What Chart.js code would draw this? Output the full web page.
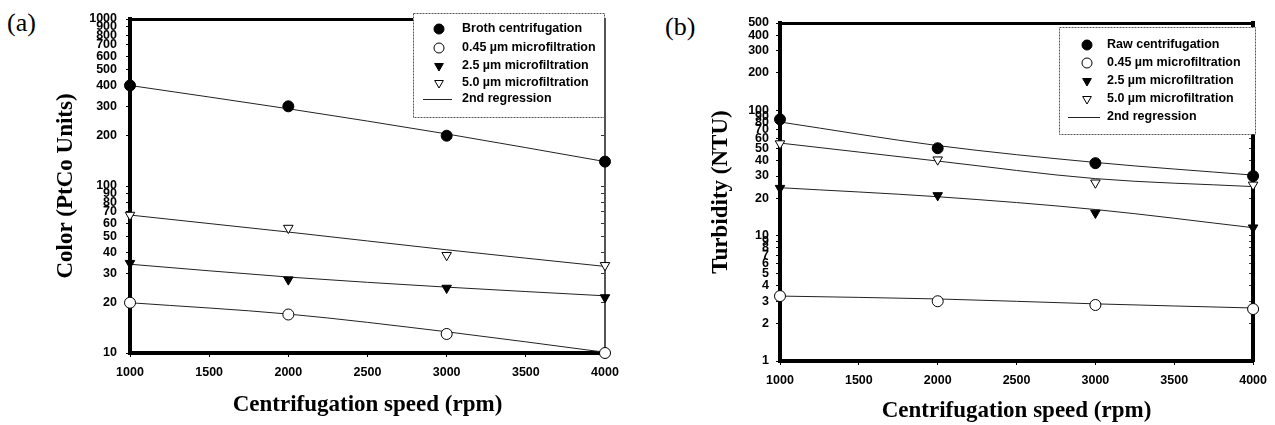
<!DOCTYPE html>
<html><head><meta charset="utf-8">
<script src="https://cdn.jsdelivr.net/npm/chart.js@4.4.1/dist/chart.umd.min.js"></script>
<style>
html,body{margin:0;padding:0;background:#fff;width:1275px;height:425px;overflow:hidden;position:relative}
canvas{position:absolute;top:0}
#ca{left:0}
#cb{left:637px}
.lab{position:absolute;font-family:"Liberation Serif","Times New Roman",serif;font-size:26px;color:#000;line-height:1}
</style></head><body>
<div class="lab" style="left:7px;top:10px">(a)</div>
<div class="lab" style="left:665px;top:14px">(b)</div>
<canvas id="ca" width="637" height="425"></canvas>
<canvas id="cb" width="638" height="425"></canvas>
<script>
// ---- data ----
const speeds = [1000, 2000, 3000, 4000];
const xTicks = [1000, 1500, 2000, 2500, 3000, 3500, 4000];

// panel (a) colour
const colorBroth = [400, 300, 200, 140];
const color045 = [20, 17, 13, 10];
const color25 = [34.5, 27.5, 24.5, 21.5];
const color50 = [67, 56, 38.5, 33.5];
const colorBrothFit = [400, 290, 205, 140];
const color045Fit = [20, 17.1, 13.4, 10.1];
const color25Fit = [34, 28.5, 24.8, 22];
const color50Fit = [67, 53, 41.5, 33];
const yTicksA = [10,20,30,40,50,60,70,80,90,100,200,300,400,500,600,700,800,900,1000];
const legendA = ['Broth centrifugation','0.45 \u00b5m microfiltration','2.5 \u00b5m microfiltration','5.0 \u00b5m microfiltration','2nd regression'];

// panel (b) turbidity
const turbRaw = [85, 50, 38, 30];
const turb045 = [3.3, 3.0, 2.8, 2.6];
const turb25 = [24, 21, 15.2, 11.6];
const turb50 = [54.5, 40.5, 26.5, 25.5];
const turbRawFit = [81, 52.5, 38.5, 30.5];
const turb045Fit = [3.3, 3.13, 2.86, 2.65];
const turb25Fit = [24.2, 20.5, 16.2, 11.6];
const turb50Fit = [55, 39.5, 28.6, 24.7];
const yTicksB = [1,2,3,4,5,6,7,8,9,10,20,30,40,50,60,70,80,90,100,200,300,400,500];
const legendB = ['Raw centrifugation','0.45 \u00b5m microfiltration','2.5 \u00b5m microfiltration','5.0 \u00b5m microfiltration','2nd regression'];

// ---- drawing ----
const markerStyles = [
  {style:'circle', rot:0, r:5.5, fill:'#000'},
  {style:'circle', rot:0, r:5.5, fill:'#fff'},
  {style:'triangle', rot:180, r:5.5, fill:'#000'},
  {style:'triangle', rot:180, r:5.5, fill:'#fff'}
];

const boxLegend = {
  id: 'boxLegend',
  afterDraw(chart, args, o) {
    const ctx = chart.ctx;
    ctx.save();
    const b = o.box;
    ctx.fillStyle = '#fff';
    ctx.fillRect(b[0], b[1], b[2]-b[0], b[3]-b[1]);
    ctx.strokeStyle = '#555';
    ctx.lineWidth = 1;
    ctx.setLineDash([2, 1]);
    ctx.strokeRect(b[0]+0.5, b[1]+0.5, b[2]-b[0], b[3]-b[1]);
    ctx.setLineDash([]);
    const ds = chart.data.datasets;
    o.labels.forEach((lab, i) => {
      const y = o.rows[i];
      if (i < 4) {
        const d = ds[i];
        ctx.fillStyle = d.backgroundColor;
        ctx.strokeStyle = '#000';
        ctx.lineWidth = 1;
        Chart.helpers.drawPoint(ctx, {pointStyle: d.pointStyle, rotation: d.rotation, radius: 5, borderWidth: 1}, o.markerX, y);
      } else {
        ctx.strokeStyle = '#222';
        ctx.lineWidth = 1;
        ctx.beginPath();
        ctx.moveTo(o.line[0], y + 0.5);
        ctx.lineTo(o.line[1], y + 0.5);
        ctx.stroke();
      }
      ctx.fillStyle = '#000';
      ctx.font = 'bold 12.5px "Liberation Sans", Arial, sans-serif';
      ctx.textBaseline = 'middle';
      ctx.textAlign = 'left';
      ctx.fillText(lab, o.textX, y);
    });
    ctx.restore();
  }
};

function makeChart(canvas, cfg) {
  const tickFont = {family: '"Liberation Sans", Arial, sans-serif', size: 12.5, weight: 'bold'};
  const titleFont = {family: '"Liberation Serif", "Times New Roman", serif', size: 23, weight: 'bold'};
  const datasets = [];
  cfg.series.forEach((vals, k) => {
    const m = markerStyles[k];
    datasets.push({
      label: cfg.legend[k],
      data: speeds.map((x, i) => ({x, y: vals[i]})),
      showLine: false, pointStyle: m.style, rotation: m.rot, pointRadius: m.r,
      backgroundColor: m.fill, borderColor: '#000', pointBorderWidth: 1,
      order: 0, clip: false
    });
  });
  cfg.fits.forEach(vals => {
    datasets.push({
      label: 'fit',
      data: speeds.map((x, i) => ({x, y: vals[i]})),
      showLine: true, pointRadius: 0, borderColor: '#222', borderWidth: 1,
      cubicInterpolationMode: 'monotone', order: 1, clip: false, fill: false
    });
  });
  const yTickSetter = a => { a.ticks = cfg.yTicks.map(v => ({value: v})); };
  const xTickSetter = a => { a.ticks = xTicks.map(v => ({value: v})); };
  return new Chart(canvas, {
    type: 'scatter',
    data: {datasets},
    plugins: [boxLegend],
    options: {
      responsive: false, animation: false, devicePixelRatio: 1,
      layout: {padding: {left: 0, right: cfg.padRight, top: cfg.padTop, bottom: 0}},
      plugins: {
        legend: {display: false}, tooltip: {enabled: false},
        boxLegend: cfg.legendBox
      },
      scales: {
        x: {
          type: 'linear', position: 'bottom', min: 1000, max: 4000,
          afterBuildTicks: xTickSetter,
          afterFit: s => { s.height = cfg.xH; },
          ticks: {font: tickFont, color: '#000', padding: 8, autoSkip: false, maxRotation: 0, callback: v => String(v)},
          grid: {drawOnChartArea: false, tickLength: 4, color: '#000'},
          border: {width: 4, color: '#000'},
          title: {display: true, text: 'Centrifugation speed (rpm)', font: titleFont, color: '#000', padding: {top: 0, bottom: cfg.xTitlePad}}
        },
        x2: {
          type: 'linear', position: 'top', min: 1000, max: 4000,
          afterBuildTicks: xTickSetter,
          afterFit: s => { s.height = 0; },
          ticks: {display: false},
          grid: {drawOnChartArea: false, drawTicks: false},
          border: {width: 3, color: '#000'}
        },
        y: {
          type: 'logarithmic', position: 'left', min: cfg.yMin, max: cfg.yMax,
          afterBuildTicks: yTickSetter,
          afterFit: s => { s.width = cfg.yW; },
          ticks: {font: tickFont, color: '#000', padding: cfg.yTickPad, autoSkip: false, callback: v => String(v)},
          grid: {drawOnChartArea: false, tickLength: 4, color: '#000'},
          border: {width: 4, color: '#000'},
          title: {display: true, text: cfg.yTitle, font: titleFont, color: '#000', padding: {top: cfg.yTitlePad, bottom: 0}}
        },
        y2: {
          type: 'logarithmic', position: 'right', min: cfg.yMin, max: cfg.yMax,
          afterBuildTicks: yTickSetter,
          afterFit: s => { s.width = 0; },
          ticks: {display: false},
          grid: {drawOnChartArea: false, tickLength: -4, color: '#333'},
          border: {width: cfg.rightW, color: cfg.rightC}
        }
      }
    }
  });
}

makeChart(document.getElementById('ca'), {
  series: [colorBroth, color045, color25, color50],
  fits: [colorBrothFit, color045Fit, color25Fit, color50Fit],
  legend: legendA, yTicks: yTicksA, yMin: 10, yMax: 1000,
  yTitle: 'Color (PtCo Units)',
  padRight: 32, padTop: 19, xH: 72, yW: 130, yTickPad: 9, yTitlePad: 52, xTitlePad: 6,
  rightW: 2, rightC: '#555',
  legendBox: {box: [413, 13, 604, 117], markerX: 439, textX: 462, line: [423, 452], rows: [29, 48, 66, 83, 99], labels: legendA}
});

makeChart(document.getElementById('cb'), {
  series: [turbRaw, turb045, turb25, turb50],
  fits: [turbRawFit, turb045Fit, turb25Fit, turb50Fit],
  legend: legendB, yTicks: yTicksB, yMin: 1, yMax: 500,
  yTitle: 'Turbidity (NTU)',
  padRight: 13, padTop: 23, xH: 64, yW: 143, yTickPad: 7, yTitlePad: 70, xTitlePad: 0,
  rightW: 4, rightC: '#000',
  legendBox: {box: [422, 27, 618, 134], markerX: 450, textX: 470, line: [431, 463], rows: [45, 63, 81, 99, 117], labels: legendB}
});
</script>
</body></html>
